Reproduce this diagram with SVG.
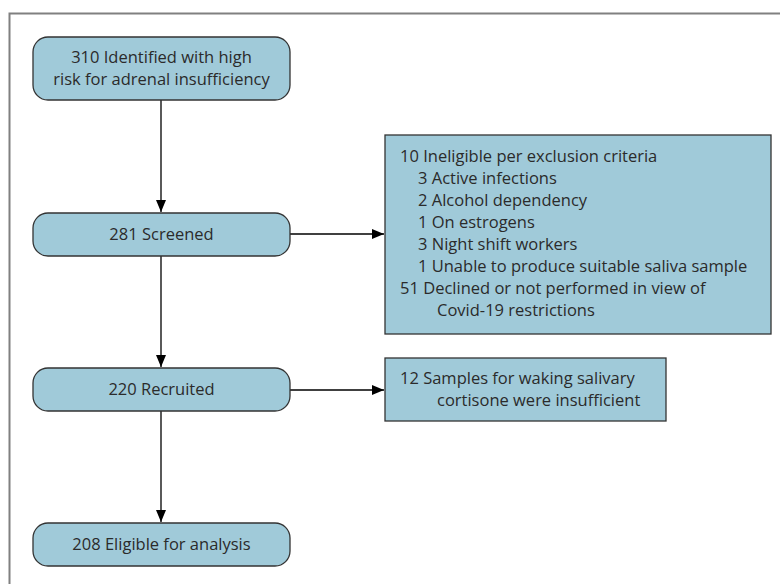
<svg xmlns="http://www.w3.org/2000/svg" width="780" height="584" viewBox="0 0 780 584">
<defs>
<marker id="arr" viewBox="0 0 12 10" refX="12" refY="5" markerWidth="12" markerHeight="10" markerUnits="userSpaceOnUse" orient="auto">
<path d="M0,0 L12,5 L0,10 z" fill="#000"/>
</marker>
<style>
.node{fill:#a0cad9;stroke:#333;stroke-width:1.3}
.t{font-family:"Open Sans","Noto Sans",sans-serif;font-size:16.5px;fill:#2b2b2b}
.c{text-anchor:middle}
.e{stroke:#000;stroke-width:1.3;fill:none;marker-end:url(#arr)}
</style>
</defs>
<rect x="0" y="0" width="780" height="584" fill="#fff"/>
<path d="M9.5,584 V13.5 H780" fill="none" stroke="#808080" stroke-width="2"/>
<g id="connectors">
<line class="e" x1="161" y1="100" x2="161" y2="212"/>
<line class="e" x1="161" y1="256" x2="161" y2="367"/>
<line class="e" x1="161" y1="411" x2="161" y2="522"/>
<line class="e" x1="290" y1="234" x2="384" y2="234"/>
<line class="e" x1="290" y1="390" x2="384" y2="390"/>
</g>
<g id="n1">
<rect class="node" x="33" y="37" width="257" height="63" rx="15"/>
<text class="t c" x="161.5" y="63">310 Identified with high</text>
<text class="t c" x="161.5" y="85">risk for adrenal insufficiency</text>
</g>
<g id="n2">
<rect class="node" x="33" y="213" width="257" height="43" rx="15"/>
<text class="t c" x="161.5" y="240">281 Screened</text>
</g>
<g id="n3">
<rect class="node" x="33" y="368" width="257" height="43" rx="15"/>
<text class="t c" x="161.5" y="395">220 Recruited</text>
</g>
<g id="n4">
<rect class="node" x="33" y="523" width="257" height="43" rx="15"/>
<text class="t c" x="161.5" y="550">208 Eligible for analysis</text>
</g>
<g id="excl1">
<rect class="node" x="385" y="135" width="386" height="199"/>
<text class="t" x="400" y="162">10 Ineligible per exclusion criteria</text>
<text class="t" x="418" y="184">3 Active infections</text>
<text class="t" x="418" y="206">2 Alcohol dependency</text>
<text class="t" x="418" y="228">1 On estrogens</text>
<text class="t" x="418" y="250">3 Night shift workers</text>
<text class="t" x="418" y="272">1 Unable to produce suitable saliva sample</text>
<text class="t" x="400" y="294">51 Declined or not performed in view of</text>
<text class="t" x="437" y="316">Covid-19 restrictions</text>
</g>
<g id="excl2">
<rect class="node" x="385" y="358" width="281" height="63"/>
<text class="t" x="400" y="384">12 Samples for waking salivary</text>
<text class="t" x="437" y="406">cortisone were insufficient</text>
</g>
</svg>
